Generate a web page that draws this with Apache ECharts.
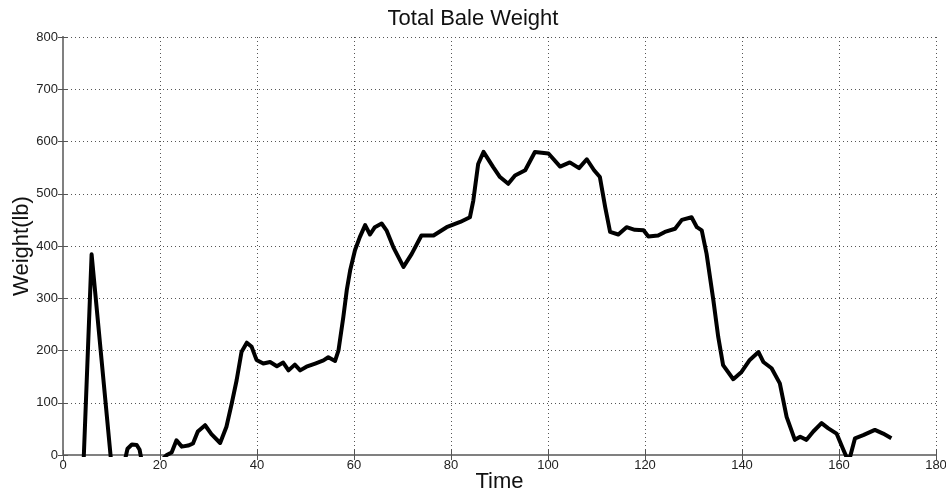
<!DOCTYPE html>
<html>
<head>
<meta charset="utf-8">
<script src="https://cdn.jsdelivr.net/npm/echarts@6/dist/echarts.min.js"></script>
<style>html,body{margin:0;padding:0;background:#fff;}#c{width:946px;height:496px;}</style>
</head>
<body>
<div id="c"></div>
<script>
var titleText = 'Total Bale Weight';
var xName = 'Time';
var yName = 'Weight(lb)';
var times = [4.0, 5.9, 10.5, 12.4, 13.3, 14.2, 15.2, 15.8, 16.6, 20.3, 21.4, 22.4, 23.4, 24.5, 25.8, 26.8, 27.8, 29.3, 30.6, 32.4, 33.7, 34.8, 35.8, 36.8, 37.9, 38.9, 39.9, 41.3, 42.7, 44.1, 45.4, 46.5, 47.8, 48.9, 50.2, 52.0, 53.7, 54.7, 56.1, 56.8, 57.8, 58.5, 59.2, 60.2, 61.2, 62.3, 63.3, 64.3, 65.7, 66.7, 68.1, 70.2, 71.9, 73.9, 76.4, 79.1, 81.9, 83.9, 84.6, 85.6, 86.7, 88.7, 90.1, 91.8, 93.2, 95.3, 97.3, 100.1, 102.5, 104.5, 106.4, 108.0, 109.5, 110.7, 111.8, 112.8, 114.5, 116.2, 117.9, 119.7, 120.7, 122.7, 124.1, 126.2, 127.6, 129.6, 130.7, 131.7, 132.7, 134.1, 135.1, 136.1, 138.2, 139.9, 141.6, 143.4, 144.4, 146.1, 147.8, 149.2, 150.9, 152.0, 153.3, 154.7, 156.4, 157.8, 159.5, 160.9, 161.6, 162.3, 163.3, 165.0, 167.4, 169.1, 170.8];
var weights = [-72, 384, -69, -25, 12, 20, 19, 10, -30, -10, 0, 5, 28, 16, 18, 22, 45, 57, 40, 23, 54, 99, 143, 197, 215, 207, 182, 175, 178, 170, 177, 162, 173, 162, 169, 175, 181, 187, 180, 200, 264, 315, 353, 392, 417, 440, 422, 436, 443, 430, 398, 360, 385, 420, 420, 436, 446, 455, 487, 557, 580, 551, 532, 519, 535, 545, 580, 577, 552, 560, 549, 566, 545, 532, 474, 427, 422, 436, 431, 430, 418, 420, 427, 433, 450, 455, 436, 430, 385, 296, 226, 172, 145, 159, 182, 197, 178, 166, 137, 73, 29, 35, 29, 45, 61, 51, 41, 10, -5, -3, 32, 38, 48, 41, 32];
var xMin = 0, xMax = 180, xStep = 20;
var yMin = 0, yMax = 800, yStep = 100;

var pts = times.map(function (t, i) { return [t, weights[i]]; });
var font = 'Liberation Sans, Arial, sans-serif';
var boxLine = {show: true, lineStyle: {color: '#808080', width: 2}};
var tick = {show: true, inside: true, length: 5, lineStyle: {color: '#555', width: 1}};
var grid = {show: true, lineStyle: {color: '#555', type: [1, 3], width: 1}};

var chart = echarts.init(document.getElementById('c'));
chart.setOption({
  backgroundColor: '#fff',
  animation: false,
  title: {text: titleText, left: 'center', top: 3,
    textStyle: {fontFamily: font, fontSize: 22, fontWeight: 'normal', color: '#111'}},
  grid: {left: 63, right: 10, top: 37, bottom: 41, containLabel: false, outerBoundsMode: 'none'},
  xAxis: [
    {type: 'value', position: 'bottom', min: xMin, max: xMax, interval: xStep,
     axisLine: boxLine, axisTick: tick, splitLine: grid,
     axisLabel: {color: '#222', fontFamily: font, fontSize: 13, margin: 4},
     name: xName, nameLocation: 'middle', nameGap: 16, nameMoveOverlap: false,
     nameTextStyle: {fontFamily: font, fontSize: 22, color: '#111'}},
    {type: 'value', position: 'top', min: xMin, max: xMax, interval: xStep,
     axisLine: boxLine, axisTick: tick, splitLine: {show: false}, axisLabel: {show: false}}
  ],
  yAxis: [
    {type: 'value', position: 'left', min: yMin, max: yMax, interval: yStep,
     axisLine: boxLine, axisTick: tick, splitLine: grid,
     axisLabel: {color: '#222', fontFamily: font, fontSize: 13, margin: 5},
     name: yName, nameLocation: 'middle', nameGap: 30, nameMoveOverlap: false,
     nameTextStyle: {fontFamily: font, fontSize: 22, color: '#111'}},
    {type: 'value', position: 'right', min: yMin, max: yMax, interval: yStep,
     axisLine: boxLine, axisTick: tick, splitLine: {show: false}, axisLabel: {show: false}}
  ],
  series: [{
    type: 'line', data: pts, showSymbol: false, symbol: 'none', clip: true,
    lineStyle: {color: '#000', width: 4, join: 'round'}
  }]
});
</script>
</body>
</html>
